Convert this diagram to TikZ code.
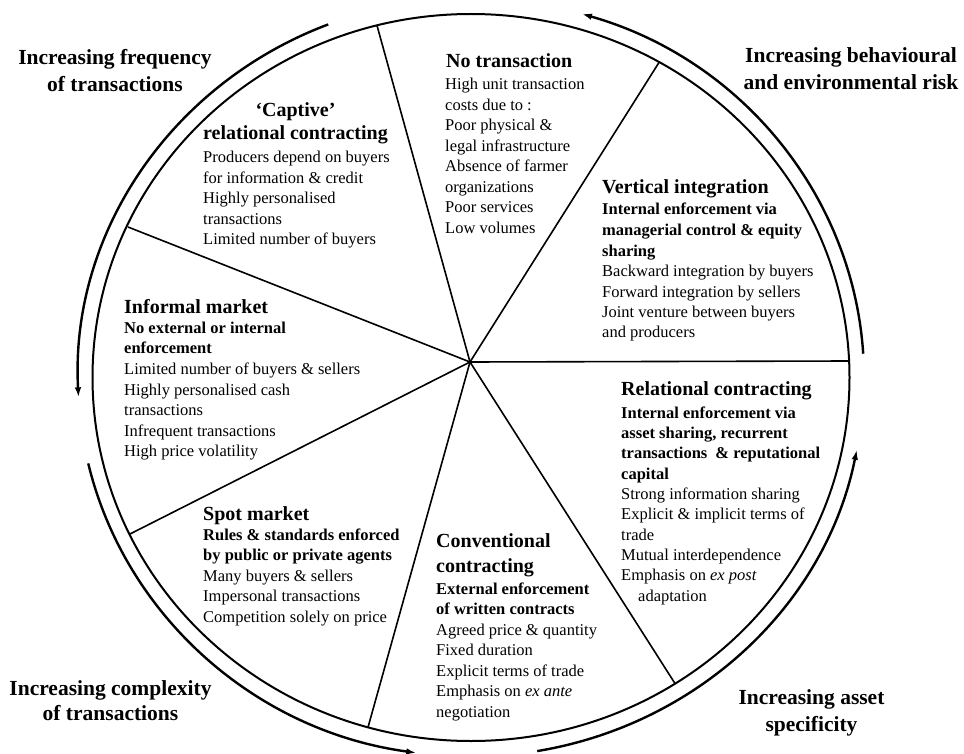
\documentclass[tikz,border=0pt]{standalone}
\usepackage{fontspec}
\setmainfont{Liberation Serif}
\usetikzlibrary{arrows.meta}
\newcommand{\bodyf}{\fontsize{16.5}{20.5}\selectfont}
\newcommand{\ttlf}{\fontsize{20}{24}\selectfont\bfseries}
\newcommand{\cornf}{\fontsize{21.5}{27}\selectfont\bfseries}
\newcommand{\Ln}[1]{\hbox{#1}}
\newcommand{\Tl}[1]{\hbox{\ttlf #1}}
\newcommand{\Bd}[1]{\hbox{\bfseries #1}}
\newcommand{\Lines}[2]{\vtop{\baselineskip=#1pt\lineskiplimit=-100pt\lineskip=0pt #2}}
\newcommand{\Ctr}[2]{\vtop{\baselineskip=#1pt\lineskiplimit=-100pt\lineskip=0pt\halign{\hfil##\hfil\cr#2\crcr}}}
\tikzset{
  ring/.style={line width=2pt},
  spoke/.style={line width=1.6pt},
  outarc/.style={line width=2.4pt, -{Latex[length=10pt,width=6.5pt]}},
  txt/.style={anchor=base west, inner sep=0pt, font=\bodyf},
  corner/.style={anchor=base, inner sep=0pt, font=\cornf},
}
\begin{document}
\begin{tikzpicture}[x=1pt,y=-1pt]
\fill[white] (0,0) rectangle (964,754);
\useasboundingbox (0,0) rectangle (964,754);
% geometry
\coordinate (c) at (470,362);
\coordinate (o) at (471,377.5);
\coordinate (p1) at (377,25.5);
\coordinate (p2) at (659,62.5);
\coordinate (p3) at (849.5,361);
\coordinate (p4) at (675,683.5);
\coordinate (p5) at (368,727.3);
\coordinate (p6) at (130,534);
\coordinate (p7) at (128,227);
\draw[ring] (o) ellipse [x radius=378.5, y radius=363.5];
\foreach \p in {p1,p2,p3,p4,p5,p6,p7} \draw[spoke] (c) -- (\p);
% outer arrows (counterclockwise)
\draw[outarc] (o) ++(-111.3:393 and 379) arc[start angle=-111.3, end angle=-183, x radius=393, y radius=379];
\draw[outarc] (o) ++(-193.1:393 and 379) arc[start angle=-193.1, end angle=-262, x radius=393, y radius=379];
\draw[outarc] (o) ++(-279.7:393 and 379) arc[start angle=-279.7, end angle=-349, x radius=393, y radius=379];
\draw[outarc] (o) ++(-3.6:393 and 379) arc[start angle=-3.6, end angle=-73.6, x radius=393, y radius=379];
% corner labels
\node[corner] (freq) at (115,65) {\Ctr{27}{Increasing frequency\cr of transactions}};
\node[corner] (behav) at (851,63) {\Ctr{27}{Increasing behavioural\cr and environmental risk}};
\node[corner] (compl) at (110.5,695) {\Ctr{25}{Increasing complexity\cr of transactions}};
\node[corner] (asset) at (811.5,704) {\Ctr{27}{Increasing asset\cr specificity}};
% segments
\node[anchor=base, inner sep=0pt, font=\ttlf] (captT) at (295.5,117) {\Ctr{23}{‘Captive’\cr relational contracting}};
\node[txt] (captB) at (203,163) {\Lines{20.5}{%
  \Ln{Producers depend on buyers}
  \Ln{for information \& credit}
  \Ln{Highly personalised}
  \Ln{transactions}
  \Ln{Limited number of buyers}}};
\node[txt] (noT) at (446,68) {\Tl{No transaction}};
\node[txt] (noB) at (445,90) {\Lines{20.5}{%
  \Ln{High unit transaction}
  \Ln{costs due to :}
  \Ln{Poor physical \&}
  \Ln{legal infrastructure}
  \Ln{Absence of farmer}
  \Ln{organizations}
  \Ln{Poor services}
  \Ln{Low volumes}}};
\node[txt] (vertT) at (602,194) {\Tl{Vertical integration}};
\node[txt] (vertB) at (602,215) {\Lines{20.5}{%
  \Bd{Internal enforcement via}
  \Bd{managerial control \& equity}
  \Bd{sharing}
  \Ln{Backward integration by buyers}
  \Ln{Forward integration by sellers}
  \Ln{Joint venture between buyers}
  \Ln{and producers}}};
\node[txt] (infT) at (124,313) {\Tl{Informal market}};
\node[txt] (infB) at (124,333.5) {\Lines{20.5}{%
  \Bd{No external or internal}
  \Bd{enforcement}
  \Ln{Limited number of buyers \& sellers}
  \Ln{Highly personalised cash}
  \Ln{transactions}
  \Ln{Infrequent transactions}
  \Ln{High price volatility}}};
\node[txt] (relT) at (621,395) {\Tl{Relational contracting}};
\node[txt] (relB) at (621,418) {\Lines{20.35}{%
  \Bd{Internal enforcement via}
  \Bd{asset sharing, recurrent}
  \Bd{transactions\hskip4pt\ \& reputational}
  \Bd{capital}
  \Ln{Strong information sharing}
  \Ln{Explicit \& implicit terms of}
  \Ln{trade}
  \Ln{Mutual interdependence}
  \Ln{Emphasis on \textit{ex post}}
  \Ln{\hskip17pt adaptation}}};
\node[txt] (spotT) at (203,520) {\Tl{Spot market}};
\node[txt] (spotB) at (203,540) {\Lines{20.5}{%
  \Bd{Rules \& standards enforced}
  \Bd{by public or private agents}
  \Ln{Many buyers \& sellers}
  \Ln{Impersonal transactions}
  \Ln{Competition solely on price}}};
\node[txt] (convT) at (436,547) {\Lines{25}{%
  \Tl{Conventional}
  \Tl{contracting}}};
\node[txt] (convB) at (436,594) {\Lines{20.5}{%
  \Bd{External enforcement}
  \Bd{of written contracts}
  \Ln{Agreed price \& quantity}
  \Ln{Fixed duration}
  \Ln{Explicit terms of trade}
  \Ln{Emphasis on \textit{ex ante}}
  \Ln{negotiation}}};
\end{tikzpicture}
\end{document}
